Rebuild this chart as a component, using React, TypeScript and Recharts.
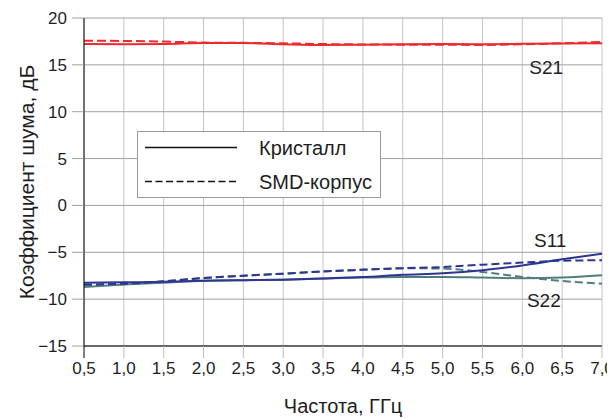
import React from 'react';
import { LineChart, Line, XAxis, YAxis, CartesianGrid, Legend, ReferenceDot, Label } from 'recharts';

const freq = [0.5, 1.0, 1.5, 2.0, 2.5, 3.0, 3.5, 4.0, 4.5, 5.0, 5.5, 6.0, 6.5, 7.0];
const s21Chip = [17.22, 17.2, 17.22, 17.32, 17.32, 17.2, 17.12, 17.15, 17.2, 17.22, 17.2, 17.25, 17.28, 17.3];
const s21Smd = [17.58, 17.55, 17.48, 17.38, 17.35, 17.3, 17.22, 17.18, 17.15, 17.15, 17.12, 17.2, 17.3, 17.45];
const s11Chip = [-8.25, -8.2, -8.15, -8.05, -7.98, -7.92, -7.8, -7.65, -7.4, -7.25, -6.92, -6.4, -5.75, -5.15];
const s11Smd = [-8.45, -8.35, -8.1, -7.75, -7.5, -7.28, -7.05, -6.87, -6.7, -6.57, -6.32, -6.1, -5.9, -5.85];
const s22Chip = [-8.7, -8.45, -8.25, -8.05, -7.98, -7.92, -7.8, -7.7, -7.63, -7.63, -7.7, -7.77, -7.7, -7.45];
const s22Smd = [-8.5, -8.4, -8.1, -7.74, -7.5, -7.28, -7.03, -6.85, -6.7, -6.74, -7.1, -7.63, -8.06, -8.35];

const xTicks = [0.5, 1.0, 1.5, 2.0, 2.5, 3.0, 3.5, 4.0, 4.5, 5.0, 5.5, 6.0, 6.5, 7.0];
const yTicks = [-15, -10, -5, 0, 5, 10, 15, 20];

const annotations = [
  { name: 'S21', x: 6.3, y: 14.7 },
  { name: 'S11', x: 6.35, y: -3.7 },
  { name: 'S22', x: 6.27, y: -10.1 },
];

const legendItems = [
  { name: 'Кристалл', dash: undefined as string | undefined },
  { name: 'SMD-корпус', dash: '7 3.5' },
];

const data = freq.map((f, i) => ({
  f,
  s21c: s21Chip[i],
  s21s: s21Smd[i],
  s11c: s11Chip[i],
  s11s: s11Smd[i],
  s22c: s22Chip[i],
  s22s: s22Smd[i],
}));

const FONT = '"Liberation Sans", Arial, sans-serif';
const RED = '#ee2a2e';
const BLUE = '#2e3592';
const TEAL = '#4f7f7d';
const TEXT = '#1e1e1e';

const fmtX = (v: number) => v.toFixed(1).replace('.', ',');
const fmtY = (v: number) => (v < 0 ? '\u2212' + Math.abs(v) : String(v));

const XTick = (props: any) => {
  const { x, y, payload, index } = props;
  return (
    <g>
      <line x1={x} x2={x} y1={y - 16} y2={y - 4} stroke={index === 0 ? '#000' : '#bdbdbd'} strokeWidth={1} />
      <text x={x} y={y} dy="0.72em" textAnchor="middle" fontSize={17} fill={TEXT} fontFamily={FONT}>
        {fmtX(payload.value)}
      </text>
    </g>
  );
};

const LegendBox = () => (
  <div
    style={{
      width: 244,
      height: 67,
      boxSizing: 'border-box',
      border: '1px solid #9a9a9a',
      background: '#fff',
      fontFamily: FONT,
      fontSize: 20,
      color: TEXT,
      position: 'relative',
    }}
  >
    {legendItems.map((it, i) => (
      <div key={it.name} style={{ position: 'absolute', left: 0, top: i === 0 ? 4 : 38, height: 24, width: 242 }}>
        <svg width={100} height={24} style={{ position: 'absolute', left: 7, top: 0 }}>
          <line x1={0} x2={92} y1={11.5} y2={11.5} stroke="#111" strokeWidth={1.5} strokeDasharray={it.dash} />
        </svg>
        <span style={{ position: 'absolute', left: 121, top: -0.5, lineHeight: '24px', whiteSpace: 'nowrap' }}>{it.name}</span>
      </div>
    ))}
  </div>
);

export default function App() {
  return (
    <div style={{ marginLeft: -8, marginTop: -8, width: 615, height: 418, background: '#fff' }}>
      <LineChart width={615} height={418} data={data} margin={{ top: 18, right: 13, bottom: 0, left: 0 }}>
        <CartesianGrid horizontal={false} vertical stroke="#c4c4c4" strokeWidth={1} />
        <CartesianGrid horizontal vertical={false} stroke="#a0a0a0" strokeWidth={1} />
        <XAxis
          dataKey="f"
          type="number"
          domain={[0.5, 7]}
          ticks={xTicks}
          interval={0}
          tick={<XTick />}
          tickLine={false}
          tickSize={12}
          tickMargin={4}
          axisLine={{ stroke: '#000', strokeWidth: 1 }}
          height={72}
        >
          <Label
            value="Частота, ГГц"
            position="insideBottom"
            offset={5}
            style={{ fontFamily: FONT, fontSize: 20, fill: TEXT }}
          />
        </XAxis>
        <YAxis
          type="number"
          domain={[-15, 20]}
          ticks={yTicks}
          interval={0}
          width={84}
          tickFormatter={fmtY}
          tickSize={12}
          tickMargin={5}
          tickLine={{ stroke: '#a0a0a0' }}
          axisLine={{ stroke: '#000', strokeWidth: 1 }}
          tick={{ fontFamily: FONT, fontSize: 17, fill: TEXT }}
        >
          <Label
            value="Коэффициент шума, дБ"
            angle={-90}
            position="insideLeft"
            offset={27}
            style={{ fontFamily: FONT, fontSize: 21, fill: TEXT, textAnchor: 'middle' }}
          />
        </YAxis>
        <Legend
          layout="horizontal"
          verticalAlign="middle"
          align="center"
          content={<LegendBox />}
          wrapperStyle={{ position: 'absolute', left: 137, top: 131, width: 244, height: 67 }}
        />
        <Line type="monotone" dataKey="s21c" stroke={RED} strokeWidth={2} dot={false} isAnimationActive={false} />
        <Line type="monotone" dataKey="s21s" stroke={RED} strokeWidth={2} strokeDasharray="9 4" dot={false} isAnimationActive={false} />
        <Line type="monotone" dataKey="s22c" stroke={TEAL} strokeWidth={2} dot={false} isAnimationActive={false} />
        <Line type="monotone" dataKey="s22s" stroke={TEAL} strokeWidth={2} strokeDasharray="8 4" dot={false} isAnimationActive={false} />
        <Line type="monotone" dataKey="s11c" stroke={BLUE} strokeWidth={2} dot={false} isAnimationActive={false} />
        <Line type="monotone" dataKey="s11s" stroke={BLUE} strokeWidth={2} strokeDasharray="8 4" dot={false} isAnimationActive={false} />
        {annotations.map((a) => (
          <ReferenceDot key={a.name} x={a.x} y={a.y} r={0} fill="none" stroke="none" ifOverflow="visible">
            <Label
              value={a.name}
              position="center"
              style={{ fontFamily: FONT, fontSize: 19, fill: TEXT }}
            />
          </ReferenceDot>
        ))}
      </LineChart>
    </div>
  );
}
